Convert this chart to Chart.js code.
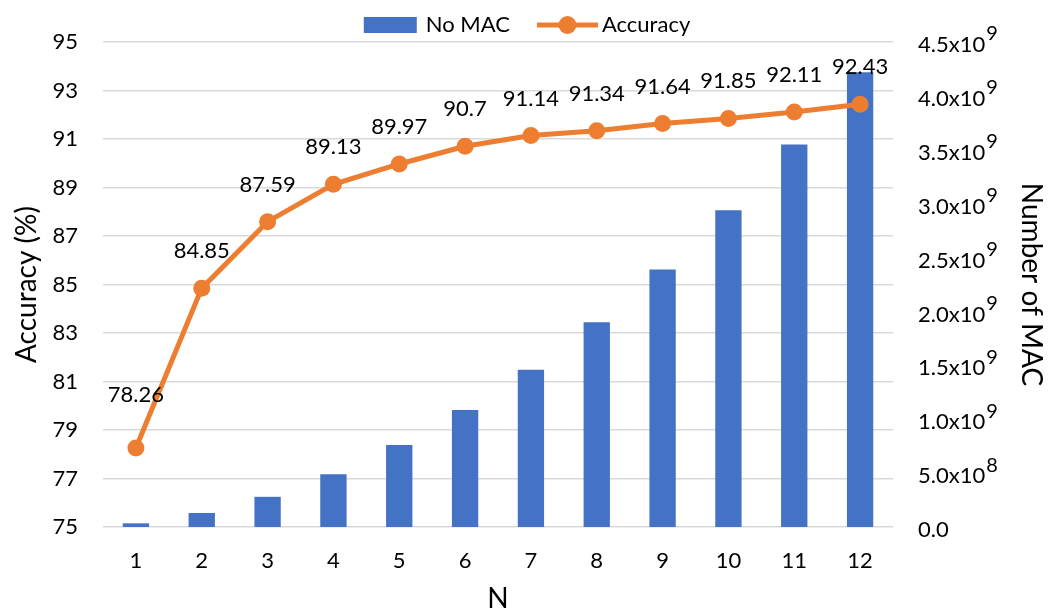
<!DOCTYPE html>
<html lang="en">
<head>
<meta charset="UTF-8">
<title>Accuracy and MAC vs N</title>
<script src="https://cdn.jsdelivr.net/npm/chart.js"></script>
<style>
  body { margin: 0; background: #fff; }
  .wrap { width: 1054px; height: 613px; }
</style>
</head>
<body>
<div class="wrap"><canvas id="chart"></canvas></div>
<script>
// data
const nLabels = ['1', '2', '3', '4', '5', '6', '7', '8', '9', '10', '11', '12'];
const accuracy = [78.26, 84.85, 87.59, 89.13, 89.97, 90.7, 91.14, 91.34, 91.64, 91.85, 92.11, 92.43];
const macCount = [0.034e9, 0.13e9, 0.28e9, 0.49e9, 0.76e9, 1.085e9, 1.46e9, 1.90e9, 2.39e9, 2.94e9, 3.55e9, 4.22e9];
// right axis labels: [mantissa, exponent]
const macTickLabels = [['0.0', ''], ['5.0x10', '8'], ['1.0x10', '9'], ['1.5x10', '9'], ['2.0x10', '9'],
  ['2.5x10', '9'], ['3.0x10', '9'], ['3.5x10', '9'], ['4.0x10', '9'], ['4.5x10', '9']];

const FONT = 'Lato';
const SIZE = 22;
const TITLE_SIZE = 28;
const BLUE = '#4472C4';
const ORANGE = '#ED7D31';
const TEXT = '#000';

Chart.defaults.font.family = FONT;
Chart.defaults.font.size = SIZE;
Chart.defaults.color = TEXT;

// value labels above the accuracy points
const pointLabels = {
  id: 'pointLabels',
  afterDatasetsDraw(chart) {
    const ctx = chart.ctx;
    const meta = chart.getDatasetMeta(1);
    ctx.save();
    ctx.font = SIZE + 'px ' + FONT;
    ctx.fillStyle = TEXT;
    ctx.textAlign = 'center';
    ctx.textBaseline = 'middle';
    meta.data.forEach((pt, i) => {
      const off = i === 0 ? 53 : 37;
      ctx.fillText(String(accuracy[i]), pt.x, pt.y - off);
    });
    ctx.restore();
  }
};

// right axis tick labels with superscript exponent
const macTicks = {
  id: 'macTicks',
  afterDraw(chart) {
    const ctx = chart.ctx;
    const scale = chart.scales.yMac;
    ctx.save();
    ctx.fillStyle = TEXT;
    ctx.textAlign = 'left';
    ctx.textBaseline = 'middle';
    scale.ticks.forEach((t, i) => {
      const lab = macTickLabels[i];
      if (!lab) return;
      const y = scale.getPixelForValue(t.value);
      const x = chart.chartArea.right + 25;
      ctx.font = SIZE + 'px ' + FONT;
      ctx.fillText(lab[0], x, y + 3);
      const w = ctx.measureText(lab[0]).width;
      ctx.font = (SIZE - 2) + 'px ' + FONT;
      ctx.fillText(lab[1], x + w + 1, y - 8);
    });
    ctx.restore();
  }
};

// legend: blue box + orange line with dot
const topLegend = {
  id: 'topLegend',
  afterDraw(chart) {
    const ctx = chart.ctx;
    ctx.save();
    ctx.font = SIZE + 'px ' + FONT;
    const w1 = ctx.measureText('No MAC').width;
    const w2 = ctx.measureText('Accuracy').width;
    const total = 53 + 9 + w1 + 27 + 61 + 4 + w2;
    let x = chart.width / 2 - total / 2;
    const y = 25;
    ctx.fillStyle = BLUE;
    ctx.fillRect(x, y - 8, 53, 16);
    x += 62;
    ctx.fillStyle = TEXT;
    ctx.textBaseline = 'middle';
    ctx.fillText('No MAC', x, y);
    x += w1 + 27;
    ctx.strokeStyle = ORANGE;
    ctx.lineWidth = 5;
    ctx.beginPath();
    ctx.moveTo(x, y);
    ctx.lineTo(x + 61, y);
    ctx.stroke();
    ctx.fillStyle = ORANGE;
    ctx.beginPath();
    ctx.arc(x + 30.5, y, 9, 0, Math.PI * 2);
    ctx.fill();
    x += 65;
    ctx.fillStyle = TEXT;
    ctx.fillText('Accuracy', x, y);
    ctx.restore();
  }
};

new Chart(document.getElementById('chart'), {
  data: {
    labels: nLabels,
    datasets: [
      {
        type: 'bar',
        label: 'No MAC',
        data: macCount,
        yAxisID: 'yMac',
        backgroundColor: BLUE,
        barPercentage: 0.4,
        categoryPercentage: 1.0,
        order: 1
      },
      {
        type: 'line',
        label: 'Accuracy',
        data: accuracy,
        yAxisID: 'yAcc',
        borderColor: ORANGE,
        backgroundColor: ORANGE,
        borderWidth: 5,
        pointRadius: 8.5,
        pointBackgroundColor: ORANGE,
        pointBorderWidth: 0,
        tension: 0,
        order: 0
      }
    ]
  },
  options: {
    responsive: true,
    maintainAspectRatio: false,
    animation: false,
    layout: { padding: { top: 42, left: 0, right: 0, bottom: 0 } },
    plugins: {
      legend: { display: false },
      tooltip: { enabled: false }
    },
    scales: {
      x: {
        offset: true,
        grid: { display: false, drawTicks: false },
        border: { display: false },
        ticks: { padding: 21, color: TEXT },
        title: {
          display: true, text: 'N', padding: { top: 0, bottom: 0 }, color: TEXT,
          font: { size: TITLE_SIZE, lineHeight: 1.0 }
        },
        afterFit(s) { s.height = 86; }
      },
      yAcc: {
        position: 'left',
        min: 75,
        max: 95,
        ticks: { stepSize: 2, padding: 25, color: TEXT },
        grid: { color: '#D9D9D9', lineWidth: 1.5, drawTicks: false },
        border: { display: false },
        title: {
          display: true, text: 'Accuracy (%)', padding: { top: 10, bottom: 4 }, color: TEXT,
          font: { size: TITLE_SIZE }
        },
        afterFit(s) { s.width = 103; }
      },
      yMac: {
        position: 'right',
        min: 0,
        max: 4.5e9,
        ticks: { stepSize: 0.5e9, display: false },
        grid: { display: false, drawTicks: false },
        border: { display: false },
        title: {
          display: true, text: 'Number of MAC', padding: { top: 6, bottom: 4 }, color: TEXT,
          font: { size: TITLE_SIZE }
        },
        afterFit(s) { s.width = 161; }
      }
    }
  },
  plugins: [pointLabels, macTicks, topLegend]
});
</script>
</body>
</html>
